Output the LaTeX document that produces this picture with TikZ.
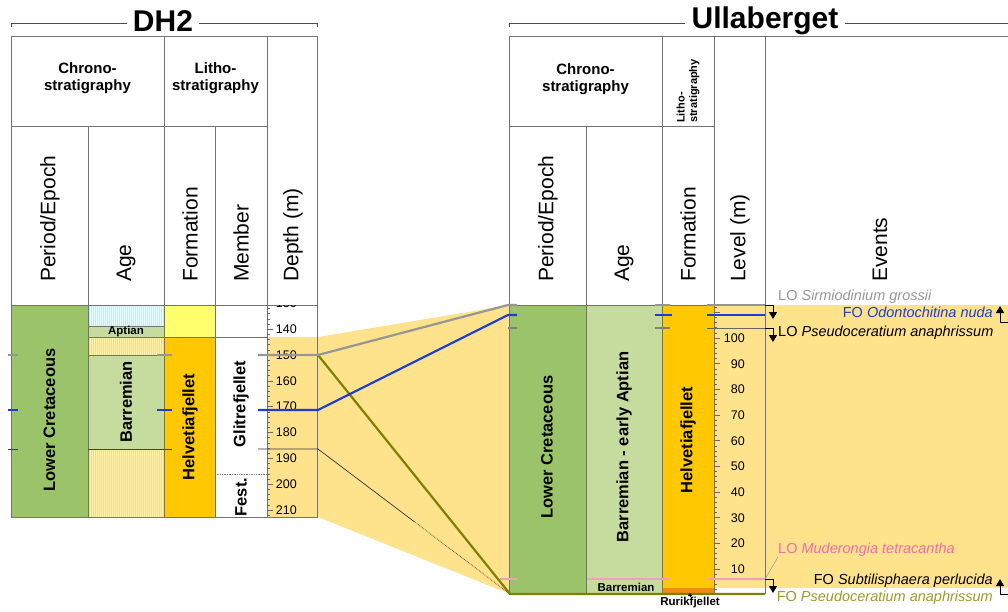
\documentclass[tikz,border=0pt]{standalone}
\usepackage{fontspec}
\setmainfont{Liberation Sans}
\usetikzlibrary{arrows.meta,calc}

\definecolor{epochgreen}{RGB}{155,196,106}
\definecolor{agegreen}{RGB}{197,220,158}
\definecolor{fmorange}{RGB}{255,200,0}
\definecolor{brightyel}{RGB}{255,255,110}
\definecolor{bandyel}{RGB}{255,226,140}
\definecolor{rurik}{RGB}{240,140,20}
\definecolor{hatchcyanbg}{RGB}{236,249,253}
\definecolor{hatchcyanln}{RGB}{200,234,246}
\definecolor{hatchyelbg}{RGB}{255,240,185}
\definecolor{hatchyelln}{RGB}{248,222,130}
\definecolor{hzblue}{RGB}{30,60,210}
\definecolor{hzgrey}{RGB}{150,150,150}
\definecolor{hzolive}{RGB}{128,128,0}
\definecolor{hzpink}{RGB}{240,160,185}
\definecolor{evpink}{RGB}{240,110,170}
\definecolor{evolive}{RGB}{155,155,40}

\begin{document}
\begin{tikzpicture}[
  x=1pt, y=-1pt,
  tbl/.style={draw=black!55, line width=0.8pt},
  hdr/.style={font=\fontsize{15}{17}\selectfont\bfseries, align=center, inner sep=0pt},
  colhead/.style={font=\fontsize{21}{24}\selectfont, rotate=90, anchor=west, inner sep=0pt},
  unitlbl/.style={font=\fontsize{16.5}{19}\selectfont\bfseries, rotate=90, inner sep=0pt},
  unitsmall/.style={font=\fontsize{11.5}{13}\selectfont\bfseries, inner sep=0pt},
  depthlbl/.style={font=\fontsize{12.5}{14}\selectfont, anchor=east, inner sep=0pt},
  evlabel/.style={font=\fontsize{14.5}{16}\selectfont, inner sep=0pt},
  bigtitle/.style={font=\fontsize{30}{32}\selectfont\bfseries, inner sep=0pt},
  horizon/.style={line width=2.2pt},
  tickln/.style={draw=black!60, line width=0.6pt},
  evarrow/.style={-{Triangle[length=7pt,width=8pt]}, line width=0.8pt}
]
\useasboundingbox (0,0) rectangle (1008,612);

% Correlation band between the two sections
\fill[bandyel] (267,337) -- (318,337) -- (510,305) -- (510,594) -- (318,517) -- (267,517) -- cycle;
\fill[bandyel] (714,305) rectangle (1008,588);

% DH2 columns
\fill[epochgreen] (11,305) rectangle (88,517);
\fill[hatchcyanbg] (88,305) rectangle (164,326);
\fill[agegreen] (88,326) rectangle (164,337);
\fill[hatchyelbg] (88,337) rectangle (164,355);
\fill[agegreen] (88,355) rectangle (164,449);
\fill[hatchyelbg] (88,449) rectangle (164,517);
\foreach \x in {89,91,...,163}{
  \draw[hatchcyanln, line width=0.7pt] (\x,305) -- (\x,326);
  \draw[hatchyelln, line width=0.7pt] (\x,337) -- (\x,355);
  \draw[hatchyelln, line width=0.7pt] (\x,449) -- (\x,517);
}
\fill[brightyel] (164,305) rectangle (215,337);
\fill[fmorange] (164,337) rectangle (215,517);

% Ullaberget columns
\fill[epochgreen] (509,305) rectangle (586,594);
\fill[agegreen] (586,305) rectangle (662,594);
\fill[fmorange] (662,305) rectangle (714,588);
\fill[rurik] (662,588) rectangle (714,594);

% DH2 table
\draw[tbl] (11,36) rectangle (317,517);
\draw[tbl] (11,126) -- (267,126);
\draw[tbl] (11,305) -- (317,305);
\draw[tbl] (88,126) -- (88,517);
\draw[tbl] (164,36) -- (164,517);
\draw[tbl] (215,126) -- (215,517);
\draw[tbl] (267,36) -- (267,517);
\draw[tbl] (88,326) -- (164,326);
\draw[tbl] (88,337) -- (267,337);
\draw[tbl] (88,355) -- (164,355);
\draw[tbl] (88,449) -- (164,449);
\draw[black!50, densely dotted, line width=0.7pt] (215,474) -- (267,474);

% Ullaberget table
\draw[tbl] (509,36) -- (1008,36);
\draw[tbl] (509,36) -- (509,594);
\draw[tbl] (509,126) -- (714,126);
\draw[tbl] (509,305) -- (765,305);
\draw[tbl] (586,126) -- (586,594);
\draw[tbl] (662,36) -- (662,594);
\draw[tbl] (714,36) -- (714,594);
\draw[tbl] (765,36) -- (765,594);

% Depth scale (DH2)
\foreach \d in {132,134,...,212}{
  \pgfmathsetmacro{\yy}{355+(\d-150)*2.5833}
  \draw[tickln] (267,\yy) -- (270,\yy);
}
\foreach \d in {140,150,...,210}{
  \pgfmathsetmacro{\yy}{355+(\d-150)*2.5833}
  \draw[tickln] (267,\yy) -- (273,\yy);
}
\begin{scope}
  \clip (267,305) rectangle (317,517);
  \foreach \d in {130,140,...,210}{
    \pgfmathsetmacro{\yy}{355+(\d-150)*2.5833}
    \node[depthlbl] (dep\d) at (297,\yy) {\d};
  }
\end{scope}

% Level scale (Ullaberget)
\foreach \l in {2,4,...,112}{
  \pgfmathsetmacro{\yy}{594.7-\l*2.5667}
  \draw[tickln] (714,\yy) -- (717,\yy);
}
\foreach \l in {10,20,...,110}{
  \pgfmathsetmacro{\yy}{594.7-\l*2.5667}
  \draw[tickln] (714,\yy) -- (720,\yy);
}
\foreach \l in {10,20,...,100}{
  \pgfmathsetmacro{\yy}{594.7-\l*2.5667}
  \node[depthlbl] (lev\l) at (745,\yy) {\l};
}

% Horizons in DH2
\coordinate (dhSirL) at (258,355);
\coordinate (dhSirR) at (318,355);
\coordinate (dhOdoL) at (258,410);
\coordinate (dhOdoR) at (318,410);
\coordinate (dhBasL) at (258,449);
\coordinate (dhBasR) at (318,449);
% Horizons in Ullaberget
\coordinate (ulSir) at (508,305);
\coordinate (ulSirT) at (517,305);
\coordinate (ulOdo) at (508,315);
\coordinate (ulOdoT) at (517,315);
\coordinate (ulBase) at (510,594);
\coordinate (ulBaseR) at (765,594);

\foreach \yy in {355}{
  \draw[hzgrey, horizon] (8,\yy) -- (18,\yy);
  \draw[hzgrey, horizon] (157,\yy) -- (172,\yy);
}
\foreach \yy in {410}{
  \draw[hzblue, horizon] (8,\yy) -- (18,\yy);
  \draw[hzblue, horizon] (157,\yy) -- (172,\yy);
}
\draw[black!75, line width=0.7pt] (8,449) -- (18,449);
\draw[black!75, line width=0.7pt] (88,449) -- (172,449);

% Correlation lines
\draw[black!80, line width=0.7pt] (dhBasL) -- (dhBasR) -- ($(dhBasR)!0.5!(ulBase)$);
\draw[black!80, line width=0.7pt, densely dotted] ($(dhBasR)!0.5!(ulBase)$) -- (ulBase);
\draw[hzolive, horizon] (dhSirR) -- (ulBase) -- (ulBaseR);
\draw[hzgrey, horizon] (dhSirL) -- (dhSirR) -- (ulSir) -- (ulSirT);
\draw[hzblue, horizon] (dhOdoL) -- (dhOdoR) -- (ulOdo) -- (ulOdoT);

% Horizon ticks in Ullaberget
\draw[hzgrey, horizon] (655,305) -- (670,305);
\draw[hzgrey, line width=1.4pt] (707,305) -- (765,305);
\draw[hzblue, horizon] (655,315) -- (672,315);
\draw[hzblue, horizon] (707,315) -- (765,315);
\draw[black!50, line width=1.2pt] (508,328) -- (517,328);
\draw[black!50, line width=1.2pt] (655,328) -- (670,328);
\draw[black!60, line width=1.0pt] (707,328) -- (765,328);
\draw[hzpink, line width=1.2pt] (500,579) -- (517,579);
\draw[hzpink, line width=1.2pt] (587,579) -- (670,579);
\draw[hzpink, line width=1.2pt] (707,579) -- (765,579);

% DH2 labels
\node[bigtitle, fill=white, inner xsep=6pt] (dhTitle) at (163,21) {DH2};
\draw[black!70, line width=0.8pt] (11,27) -- (11,23) -- (dhTitle.west |- 0,23);
\draw[black!70, line width=0.8pt] (dhTitle.east |- 0,23) -- (317,23) -- (317,27);
\node[hdr] (dhChrono) at (87.5,78) {Chrono-\\stratigraphy};
\node[hdr] (dhLitho) at (215.5,78) {Litho-\\stratigraphy};
\node[colhead] (dhPer) at (50,282) {Period/Epoch};
\node[colhead] (dhAge) at (126,282) {Age};
\node[colhead] (dhFm) at (190,282) {Formation};
\node[colhead] (dhMb) at (241,282) {Member};
\node[colhead] (dhDep) at (293,282) {Depth (m)};
\node[unitlbl] (dhLC) at (49.5,420) {Lower Cretaceous};
\node[unitsmall] (dhApt) at (126,331.5) {Aptian};
\node[unitlbl] (dhBar) at (126,402) {Barremian};
\node[unitlbl] (dhHel) at (190,427) {Helvetiafjellet};
\node[unitlbl] (dhGli) at (241,404) {Glitrefjellet};
\node[unitlbl] (dhFes) at (241,497) {Fest.};

% Ullaberget labels
\node[bigtitle, fill=white, inner xsep=6pt] (ulTitle) at (765,21) {Ullaberget};
\draw[black!70, line width=0.8pt] (509,27) -- (509,23) -- (ulTitle.west |- 0,23);
\draw[black!70, line width=0.8pt] (ulTitle.east |- 0,23) -- (1008,23);
\node[hdr] (ulChrono) at (585.5,79) {Chrono-\\stratigraphy};
\node[font=\fontsize{11}{12.5}\selectfont\bfseries, rotate=90, anchor=west, align=left, inner sep=0pt] (ulLitho) at (688,123) {Litho-\\stratigraphy};
\node[colhead] (ulPer) at (548,282) {Period/Epoch};
\node[colhead] (ulAge) at (624,282) {Age};
\node[colhead] (ulFm) at (688,282) {Formation};
\node[colhead] (ulLev) at (740,282) {Level (m)};
\node[colhead] (ulEv) at (880,282) {Events};
\node[unitlbl] (ulLC) at (547,447) {Lower Cretaceous};
\node[unitlbl] (ulBEA) at (624,447) {Barremian - early Aptian};
\node[unitlbl] (ulHel) at (688,440) {Helvetiafjellet};
\node[unitsmall] (ulBar) at (626,587.5) {Barremian};
\node[unitsmall] (ulRur) at (690,602.5) {Rurikfjellet};
\coordinate (rurTop) at (690,593);
\draw[-{Triangle[length=3pt,width=4pt]}, line width=0.5pt] (ulRur.north) -- (rurTop);

% Events
\node[evlabel, anchor=west, text=hzgrey] (evSir) at (778,297) {LO \textit{Sirmiodinium grossii}};
\node[evlabel, anchor=east, text=hzblue] (evOdo) at (993,312) {FO \textit{Odontochitina nuda}};
\node[evlabel, anchor=west] (evPsLO) at (778,333) {LO \textit{Pseudoceratium anaphrissum}};
\node[evlabel, anchor=west, text=evpink] (evMud) at (778,550) {LO \textit{Muderongia tetracantha}};
\node[evlabel, anchor=east] (evSub) at (993,581) {FO \textit{Subtilisphaera perlucida}};
\node[evlabel, anchor=east, text=evolive] (evPsFO) at (993,598) {FO \textit{Pseudoceratium anaphrissum}};

\coordinate (sirA) at (765,305);  \coordinate (sirB) at (773,319);
\coordinate (psA) at (765,328);   \coordinate (psB) at (773,342);
\coordinate (mudA) at (765,579);  \coordinate (mudB) at (773,593);
\coordinate (odoA) at (1008,322); \coordinate (odoB) at (1000,306);
\coordinate (subA) at (1008,594); \coordinate (subB) at (1000,579);
\draw[evarrow] (sirA) -| (sirB);
\draw[evarrow] (psA) -| (psB);
\draw[evarrow] (mudA) -| (mudB);
\draw[evarrow] (odoA) -| (odoB);
\draw[evarrow] (subA) -| (subB);
\draw[black!40, line width=0.5pt] (mudA) -- (evMud.south west);

\end{tikzpicture}
\end{document}
